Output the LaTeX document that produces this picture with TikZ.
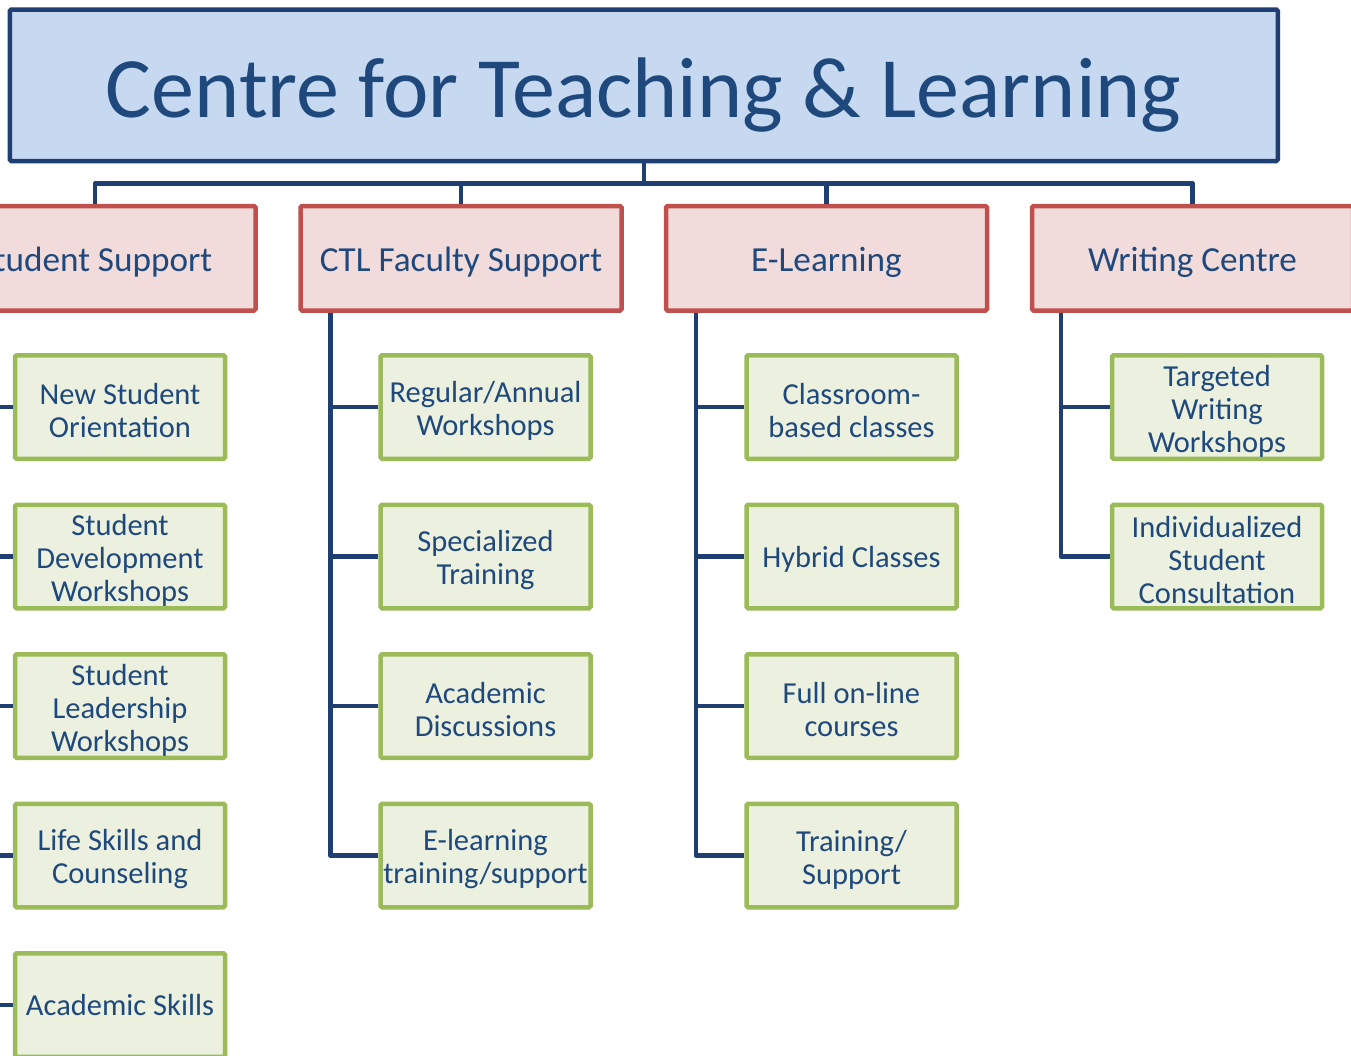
\documentclass[tikz,border=0pt]{standalone}
\usepackage{fontspec}
\setmainfont{Carlito}
\definecolor{txt}{HTML}{1F497D}
\definecolor{ln}{HTML}{1F3F72}
\definecolor{topfill}{HTML}{C6D9F1}
\definecolor{redb}{HTML}{C0504D}
\definecolor{redf}{HTML}{F2DCDB}
\definecolor{grnb}{HTML}{9BBB59}
\definecolor{grnf}{HTML}{EBF1DE}
\newcommand{\gs}{\rule{0pt}{29pt}}
\newcommand{\gso}{\rule[-5pt]{0pt}{31pt}}
\begin{document}
\begin{tikzpicture}[x=1pt,y=-1pt,
  topbox/.style={draw=ln, fill=topfill, line width=4.5pt, rounded corners=1.5pt,
    minimum width=1268pt, minimum height=151.5pt, inner sep=0pt,
    text height=80pt, text depth=16pt,
    font=\fontsize{86}{90}\selectfont, text=txt},
  unitbox/.style={draw=redb, fill=redf, line width=4.5pt, rounded corners=1.5pt,
    minimum width=321pt, minimum height=104.5pt, inner sep=0pt,
    text height=34pt, text depth=8pt,
    font=\fontsize{35.2}{40}\selectfont, text=txt},
  itembox/.style={draw=grnb, fill=grnf, line width=4.5pt, rounded corners=1.5pt,
    minimum width=210pt, minimum height=103.5pt, inner sep=0pt, align=center,
    font=\fontsize{30.5}{33}\selectfont, text=txt},
  conn/.style={draw=ln, line width=4.5pt, line join=round}]
\useasboundingbox (0,0) rectangle (1351,1055);
\clip (0,0) rectangle (1351,1055);

\node[topbox] (top) at (643.75,85.25) {Centre for Teaching \& Learning};

\node[unitbox] (u1) at (95,258.25) {Student Support};
\node[unitbox] (u2) at (461,258.25) {CTL Faculty Support};
\node[unitbox] (u3) at (826.5,258.25) {E-Learning};
\node[unitbox] (u4) at (1192.5,258.25) {Writing Centre};

\coordinate (bus) at (643.75,183.5);
\draw[conn] (top.south) -- (bus);
\draw[conn] (bus) -| (u1.north);
\draw[conn] (bus) -| (u2.north);
\draw[conn] (bus) -| (u3.north);
\draw[conn] (bus) -| (u4.north);

% column 1
\node[itembox] (a1) at (120,407) {\gs New Student\\Orientation};
\node[itembox] (a2) at (120,556.5) {\gs Student\\Development\\Workshops};
\node[itembox] (a3) at (120,706) {\gs Student\\Leadership\\Workshops};
\node[itembox] (a4) at (120,855.5) {\gs Life Skills and\\Counseling};
\node[itembox] (a5) at (120,1005) {\gso Academic Skills};
% column 2
\node[itembox] (b1) at (485.5,407) {\gs Regular/Annual\\Workshops};
\node[itembox] (b2) at (485.5,556.5) {\gs Specialized\\Training};
\node[itembox] (b3) at (485.5,706) {\gs Academic\\Discussions};
\node[itembox] (b4) at (485.5,855.5) {\gs E-learning\\training/support};
% column 3
\node[itembox] (c1) at (851.5,407) {\gs Classroom-\\based classes};
\node[itembox] (c2) at (851.5,556.5) {\gso Hybrid Classes};
\node[itembox] (c3) at (851.5,706) {\gs Full on-line\\courses};
\node[itembox] (c4) at (851.5,855.5) {\gs Training/\\Support};
% column 4
\node[itembox] (d1) at (1217,407) {\gs Targeted\\Writing\\Workshops};
\node[itembox] (d2) at (1217,556.5) {\gs Individualized\\Student\\Consultation};

\foreach \c in {a1,a2,a3,a4,a5}
  \draw[conn] ([xshift=32pt]u1.south west) |- (\c.west);
\foreach \c in {b1,b2,b3,b4}
  \draw[conn] ([xshift=32pt]u2.south west) |- (\c.west);
\foreach \c in {c1,c2,c3,c4}
  \draw[conn] ([xshift=32pt]u3.south west) |- (\c.west);
\foreach \c in {d1,d2}
  \draw[conn] ([xshift=31pt]u4.south west) |- (\c.west);
\end{tikzpicture}
\end{document}
